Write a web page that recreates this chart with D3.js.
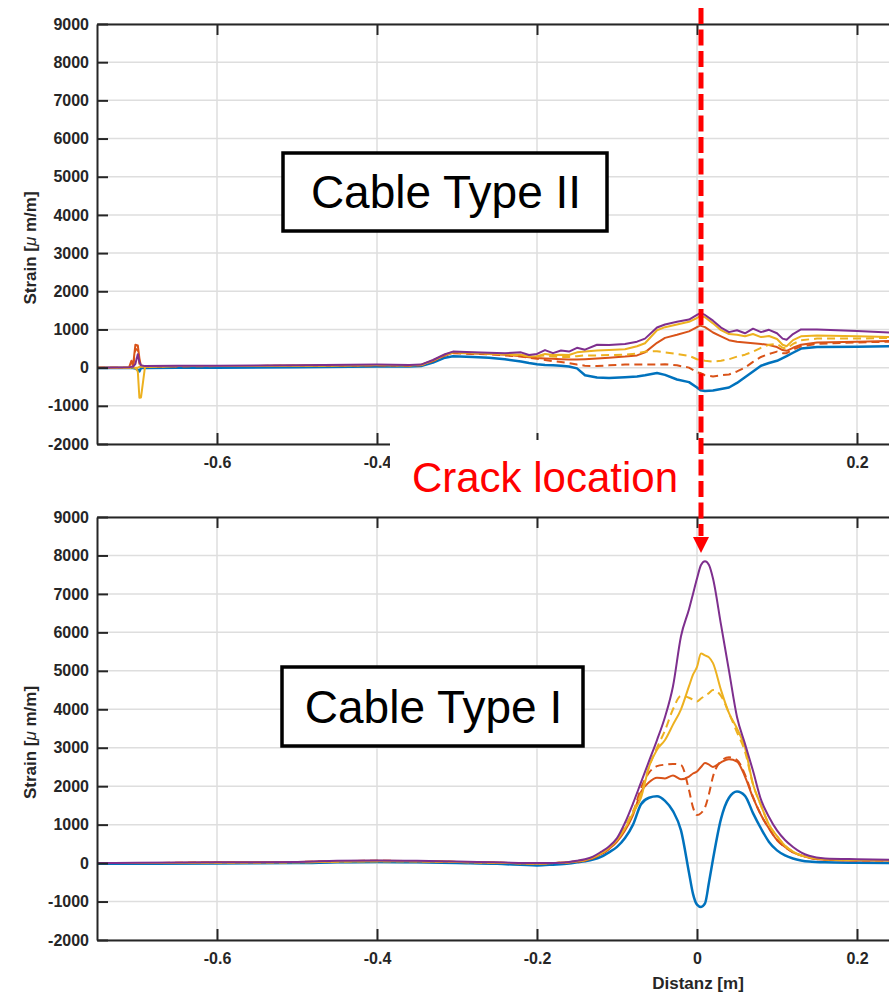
<!DOCTYPE html>
<html>
<head>
<meta charset="utf-8">
<script src="https://cdn.jsdelivr.net/npm/d3@7"></script>
<style>
  body { margin: 0; background: #fff; }
  svg { display: block; font-family: "Liberation Sans", Arial, sans-serif; }
</style>
</head>
<body>
<svg id="chart" width="889" height="995"></svg>
<script>
// x positions (m) and strain values (µm/m)

let topX = [-0.75, -0.71, -0.707, -0.705, -0.702, -0.699, -0.697, -0.695, -0.69, -0.65, -0.6, -0.5, -0.4, -0.36, -0.345, -0.33, -0.315, -0.305, -0.28, -0.26, -0.24, -0.22, -0.21, -0.2, -0.19, -0.18, -0.17, -0.16, -0.15, -0.14, -0.125, -0.11, -0.09, -0.075, -0.065, -0.05, -0.04, -0.025, -0.01, 0, 0.004, 0.01, 0.02, 0.03, 0.04, 0.05, 0.06, 0.07, 0.08, 0.09, 0.1, 0.107, 0.112, 0.12, 0.13, 0.15, 0.2, 0.24, 0.3, 0.75]

let topBlue = [-10, -10, -10, -10, -20, -60, -100, -10, -10, 0, 0, 10, 30, 30, 40, 130, 260, 300, 280, 260, 220, 160, 120, 90, 70, 60, 50, 30, -20, -200, -260, -270, -250, -230, -200, -140, -190, -310, -380, -520, -590, -610, -600, -560, -520, -400, -250, -100, 50, 120, 180, 250, 300, 390, 500, 540, 550, 560, 560, 560]
let topOrange = [0, 0, 180, 40, 600, 580, 250, 30, 30, 40, 40, 50, 60, 60, 70, 180, 320, 390, 370, 360, 340, 300, 270, 250, 240, 230, 220, 210, 210, 220, 240, 260, 290, 320, 400, 650, 780, 860, 950, 1060, 1100, 1060, 920, 820, 720, 680, 660, 640, 620, 590, 540, 460, 440, 520, 600, 660, 680, 700, 700, 700]
let topOrangeDash = [0, 0, 30, 0, 500, 450, 100, 30, 30, 30, 40, 50, 60, 50, 60, 170, 320, 380, 360, 350, 320, 290, 260, 230, 200, 170, 150, 120, 80, 50, 40, 60, 80, 80, 80, 80, 90, 60, 0, -120, -140, -200, -230, -200, -180, -100, 0, 150, 280, 360, 420, 380, 380, 470, 560, 620, 660, 680, 680, 680]
let topYellow = [0, 0, 10, 0, 0, -100, -790, -780, 20, 40, 40, 50, 70, 60, 70, 190, 340, 410, 390, 370, 350, 340, 290, 300, 360, 330, 340, 330, 400, 420, 450, 460, 480, 560, 640, 980, 1060, 1130, 1200, 1300, 1360, 1320, 1160, 980, 880, 860, 820, 880, 800, 830, 750, 600, 560, 720, 820, 840, 820, 800, 800, 800]
let topYellowDash = [0, 0, 0, 0, 0, 0, 20, 20, 20, 40, 40, 50, 70, 60, 70, 190, 330, 400, 380, 370, 350, 320, 310, 300, 320, 290, 280, 280, 300, 320, 320, 330, 340, 370, 420, 430, 400, 360, 310, 220, 200, 180, 160, 180, 220, 290, 340, 420, 520, 600, 620, 520, 500, 620, 720, 760, 760, 780, 780, 780]
let topPurple = [0, 10, 20, 20, 100, 350, 150, 60, 40, 50, 50, 60, 80, 70, 80, 200, 350, 420, 400, 390, 380, 400, 330, 360, 460, 380, 450, 420, 520, 470, 600, 590, 620, 680, 760, 1050, 1130, 1200, 1260, 1380, 1430, 1380, 1230, 1050, 930, 980, 900, 1020, 930, 990, 900, 760, 730, 880, 1000, 1000, 960, 920, 900, 900]

let botX = [-0.75, -0.7, -0.6, -0.5, -0.45, -0.4, -0.35, -0.3, -0.25, -0.2, -0.18, -0.16, -0.15, -0.14, -0.13, -0.12, -0.11, -0.1, -0.09, -0.08, -0.07, -0.06, -0.05, -0.04, -0.03, -0.02, -0.01, -0.005, 0, 0.005, 0.01, 0.015, 0.02, 0.03, 0.04, 0.05, 0.06, 0.07, 0.08, 0.09, 0.1, 0.11, 0.12, 0.13, 0.14, 0.16, 0.2, 0.3, 0.75]

let botBlue = [-20, -20, -10, 0, 20, 30, 20, 0, -20, -60, -40, -10, 20, 50, 90, 160, 280, 420, 650, 1000, 1530, 1700, 1740, 1620, 1350, 850, -250, -800, -1080, -1140, -1050, -500, 100, 1150, 1700, 1860, 1750, 1300, 900, 550, 330, 200, 120, 70, 40, 20, 10, 0, 0]
let botOrange = [0, 0, 20, 30, 50, 60, 50, 30, 10, -10, 0, 20, 40, 70, 130, 230, 370, 560, 850, 1250, 1850, 2100, 2220, 2200, 2280, 2180, 2250, 2330, 2380, 2500, 2600, 2560, 2500, 2620, 2700, 2640, 2250, 1700, 1250, 900, 600, 420, 280, 200, 140, 90, 70, 60, 60]
let botOrangeDash = [0, 0, 20, 30, 50, 60, 50, 30, 10, -10, 0, 20, 40, 70, 130, 230, 370, 580, 880, 1300, 1950, 2350, 2520, 2560, 2580, 2550, 1900, 1450, 1250, 1300, 1450, 1800, 2250, 2650, 2750, 2680, 2300, 1720, 1250, 900, 600, 420, 280, 200, 140, 90, 70, 60, 60]
let botYellow = [0, 0, 10, 20, 40, 50, 50, 30, 10, -10, 0, 20, 50, 80, 150, 250, 400, 600, 900, 1300, 1700, 2500, 2950, 3200, 3600, 4000, 4600, 4900, 5100, 5450, 5400, 5350, 5200, 4500, 3900, 3500, 3000, 2050, 1500, 1000, 700, 450, 300, 200, 150, 100, 80, 70, 70]
let botYellowDash = [0, 0, 10, 20, 40, 50, 50, 30, 10, -10, 0, 20, 50, 80, 150, 250, 400, 620, 950, 1350, 1800, 2500, 3000, 3450, 4000, 4350, 4300, 4250, 4200, 4280, 4350, 4420, 4500, 4350, 3900, 3400, 2900, 2050, 1500, 1000, 700, 450, 300, 200, 150, 100, 80, 70, 70]
let botPurple = [0, 10, 20, 30, 60, 70, 60, 40, 20, 0, 0, 30, 60, 100, 170, 290, 430, 650, 1050, 1550, 2100, 2650, 3200, 3800, 4600, 5900, 6600, 7000, 7400, 7750, 7850, 7750, 7400, 6200, 5000, 3800, 3100, 2400, 1650, 1200, 850, 600, 420, 280, 190, 120, 100, 80, 80]

let xTicks = [-0.6, -0.4, -0.2, 0, 0.2]
let yTicks = [-2000, -1000, 0, 1000, 2000, 3000, 4000, 5000, 6000, 7000, 8000, 9000]

let blue = "#0072BD", orange = "#D95319", yellow = "#EDB120", purple = "#7E2F8E"
let axisColor = "#262626"

let svg = d3.select("#chart")
svg.append("rect").attr("width", 889).attr("height", 995).attr("fill", "#fff")

let x = d3.scaleLinear().domain([-0.75, 0.75]).range([97, 1297])

function drawPanel(opts) {
  let y = d3.scaleLinear().domain([-2000, 9000]).range([opts.bottom, opts.top])
  let g = svg.append("g")

  g.append("clipPath").attr("id", opts.id)
    .append("rect")
      .attr("x", x.range()[0]).attr("y", opts.top)
      .attr("width", x.range()[1] - x.range()[0])
      .attr("height", opts.bottom - opts.top)

  // grid
  g.append("g").selectAll("line").data(yTicks).join("line")
      .attr("x1", x.range()[0]).attr("x2", x.range()[1])
      .attr("y1", d => y(d)).attr("y2", d => y(d))
      .attr("stroke", "#dedede").attr("stroke-width", 1.5)
  g.append("g").selectAll("line").data(xTicks).join("line")
      .attr("x1", d => x(d)).attr("x2", d => x(d))
      .attr("y1", opts.top).attr("y2", opts.bottom)
      .attr("stroke", "#dedede").attr("stroke-width", 1.5)

  // series
  let line = d3.line()
    .x((d, i) => x(opts.xs[i]))
    .y(d => y(d))
    .curve(opts.curve)

  let lines = g.append("g").attr("clip-path", "url(#" + opts.id + ")")
  opts.series.forEach(function(s) {
    lines.append("path")
      .datum(s.values)
      .attr("d", line)
      .attr("fill", "none")
      .attr("stroke", s.color)
      .attr("stroke-width", s.width || 2)
      .attr("stroke-dasharray", s.dash ? "8,5" : null)
      .attr("stroke-linejoin", "round")
  })

  // axes
  let fmt = d => String(d)
  let xFmt = d => opts.hideX.includes(d) ? "" : String(d)

  let yAxis = g.append("g")
    .attr("transform", "translate(" + x.range()[0] + ",0)")
    .call(d3.axisLeft(y).tickValues(yTicks).tickFormat(fmt).tickSizeInner(-11).tickSizeOuter(0).tickPadding(8))

  let xAxis = g.append("g")
    .attr("transform", "translate(0," + opts.bottom + ")")
    .call(d3.axisBottom(x).tickValues(xTicks).tickFormat(xFmt).tickSizeInner(-11).tickSizeOuter(0).tickPadding(13))

  let topAxis = g.append("g")
    .attr("transform", "translate(0," + opts.top + ")")
    .call(d3.axisTop(x).tickValues(xTicks).tickFormat("").tickSizeInner(-11).tickSizeOuter(0))

  ;[yAxis, xAxis, topAxis].forEach(function(a) {
    a.select(".domain").attr("stroke", axisColor).attr("stroke-width", 2)
    a.selectAll(".tick line").attr("stroke", axisColor).attr("stroke-width", 2)
    a.selectAll(".tick text")
      .attr("fill", axisColor)
      .style("font-size", "16px")
      .style("font-weight", "bold")
  })
  xAxis.selectAll(".tick text").filter(function() { return this.textContent === "" }).remove()
  topAxis.selectAll(".tick text").remove()

  // y label
  let label = g.append("text")
    .attr("transform", "translate(36," + ((opts.top + opts.bottom) / 2 + 14) + ") rotate(-90)")
    .attr("text-anchor", "middle")
    .attr("fill", axisColor)
    .style("font-size", "17px")
    .style("font-weight", "bold")
  label.append("tspan").text("Strain [")
  label.append("tspan").text("\u03bc").style("font-style", "italic").style("font-weight", "normal")
  label.append("tspan").text(" m/m]")

  // cable type box
  let b = opts.box
  g.append("rect")
    .attr("x", b.x).attr("y", b.y).attr("width", b.w).attr("height", b.h)
    .attr("fill", "#fff").attr("stroke", "#000").attr("stroke-width", 3.5)
  g.append("text")
    .attr("x", b.x + b.w / 2 + 1).attr("y", b.y + b.h / 2 + 16)
    .attr("text-anchor", "middle")
    .attr("fill", "#000")
    .style("font-size", "46px")
    .text(b.text)

  return y
}

drawPanel({
  id: "clipTop", top: 24, bottom: 444, xs: topX, curve: d3.curveLinear,
  hideX: [-0.2, 0],
  series: [
    { values: topBlue, color: blue, width: 2.5 },
    { values: topOrange, color: orange },
    { values: topOrangeDash, color: orange, dash: true },
    { values: topYellow, color: yellow },
    { values: topYellowDash, color: yellow, dash: true },
    { values: topPurple, color: purple }
  ],
  box: { x: 283, y: 153, w: 324, h: 78, text: "Cable Type II" }
})

drawPanel({
  id: "clipBot", top: 517, bottom: 940, xs: botX, curve: d3.curveMonotoneX,
  hideX: [],
  series: [
    { values: botBlue, color: blue, width: 2.5 },
    { values: botOrange, color: orange },
    { values: botOrangeDash, color: orange, dash: true },
    { values: botYellow, color: yellow },
    { values: botYellowDash, color: yellow, dash: true },
    { values: botPurple, color: purple }
  ],
  box: { x: 282, y: 667, w: 301, h: 79, text: "Cable Type I" }
})

// x label, bottom panel
svg.append("text")
  .attr("x", x(0) + 1).attr("y", 989)
  .attr("text-anchor", "middle")
  .attr("fill", axisColor)
  .style("font-size", "17px")
  .style("font-weight", "bold")
  .text("Distanz [m]")

// crack location annotation
svg.append("rect")
  .attr("x", 390).attr("y", 440).attr("width", 311).attr("height", 74)
  .attr("fill", "#fff")
svg.append("text")
  .attr("x", 545).attr("y", 492)
  .attr("text-anchor", "middle")
  .attr("fill", "#ff0000")
  .style("font-size", "42px")
  .text("Crack location")

let cx = x(0) + 4
svg.append("line")
  .attr("x1", cx).attr("x2", cx)
  .attr("y1", 8).attr("y2", 536)
  .attr("stroke", "#ff0000").attr("stroke-width", 5)
  .attr("stroke-dasharray", "16,5.5")
svg.append("path")
  .attr("d", "M" + (cx - 8) + ",537 L" + (cx + 8) + ",537 L" + cx + ",553 Z")
  .attr("fill", "#ff0000")
</script>
</body>
</html>
